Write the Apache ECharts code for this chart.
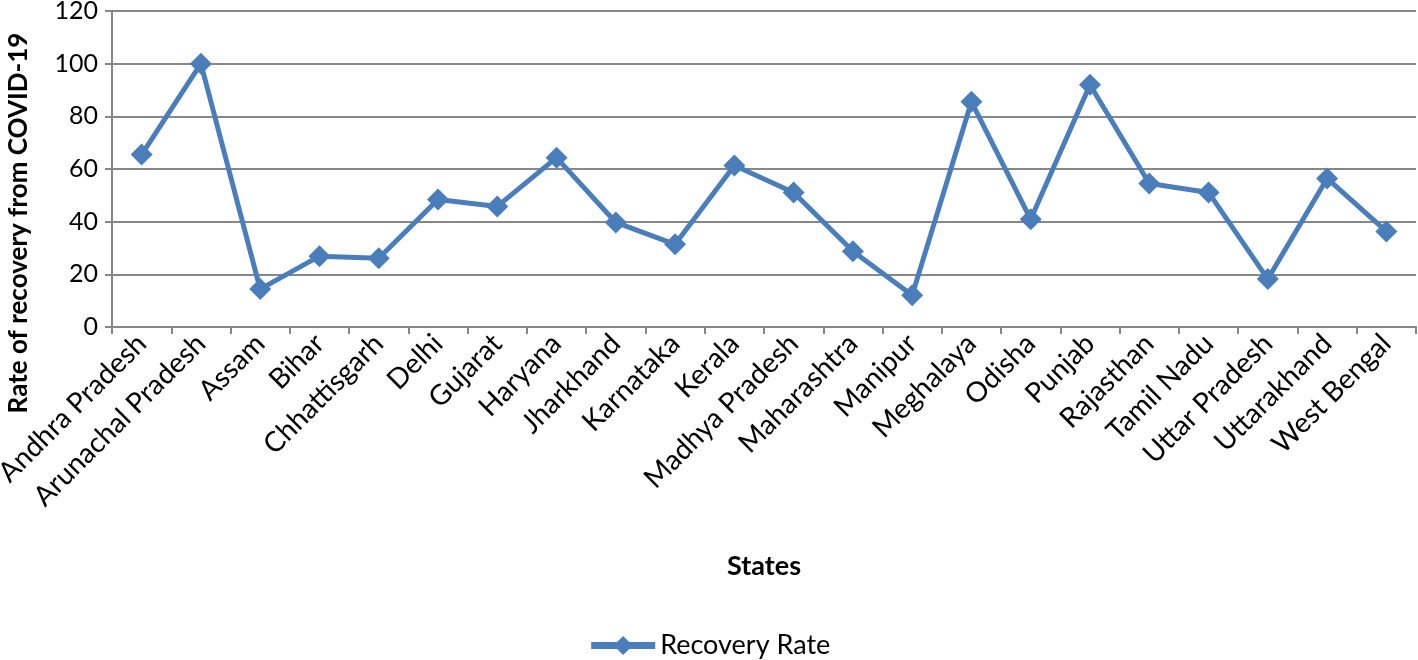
<!DOCTYPE html>
<html><head><meta charset="utf-8">
<script src="https://cdn.jsdelivr.net/npm/echarts@6/dist/echarts.min.js"></script>
<style>html,body{margin:0;padding:0;background:#fff}#c{width:1418px;height:660px}</style>
</head><body><div id="c"></div>
<script>
const states = ["Andhra Pradesh","Arunachal Pradesh","Assam","Bihar","Chhattisgarh","Delhi","Gujarat","Haryana","Jharkhand","Karnataka","Kerala","Madhya Pradesh","Maharashtra","Manipur","Meghalaya","Odisha","Punjab","Rajasthan","Tamil Nadu","Uttar Pradesh","Uttarakhand","West Bengal"];
const recoveryRate = [65.5,100,14.4,26.9,26.1,48.4,45.8,64.3,39.7,31.4,61.3,51.1,28.8,12.1,85.5,40.9,92,54.5,51.1,18.2,56.4,36.3];
const yTicks = {min:0,max:120,interval:20};
const font = 'Lato, "Open Sans", sans-serif';
const chart = echarts.init(document.getElementById('c'));
chart.setOption({
  animation:false,
  grid:{left:112,right:2,top:11,bottom:333,containLabel:false,outerBoundsMode:'none'},
  legend:{bottom:-4,left:'center',itemWidth:64,itemHeight:24,itemGap:10,
    lineStyle:{width:7},
    textStyle:{fontFamily:font,fontSize:27,color:'#000'},
    data:['Recovery Rate']},
  xAxis:{type:'category',data:states,boundaryGap:true,
    name:'States',nameLocation:'middle',nameGap:226,
    nameTextStyle:{fontFamily:font,fontSize:27,fontWeight:'bold',color:'#000'},
    axisLine:{lineStyle:{color:'#878787',width:2}},
    axisTick:{show:true,length:7,lineStyle:{color:'#878787',width:2}},
    axisLabel:{rotate:45,interval:0,fontFamily:font,fontSize:28,color:'#000',margin:12}},
  yAxis:{type:'value',min:yTicks.min,max:yTicks.max,interval:yTicks.interval,
    name:'Rate of recovery from COVID-19',nameLocation:'middle',nameGap:80,
    nameTextStyle:{fontFamily:font,fontSize:26,fontWeight:'bold',color:'#000',padding:[0,108,0,0]},
    axisLine:{show:true,lineStyle:{color:'#878787',width:2}},
    axisTick:{show:true,length:7,lineStyle:{color:'#878787',width:2}},
    splitLine:{lineStyle:{color:'#878787',width:2}},
    axisLabel:{fontFamily:font,fontSize:25,color:'#000',margin:14}},
  series:[{name:'Recovery Rate',type:'line',data:recoveryRate,
    symbol:'diamond',symbolSize:22,
    lineStyle:{color:'#4a7ebb',width:5},
    itemStyle:{color:'#4a7ebb'}}]
});
</script></body></html>
